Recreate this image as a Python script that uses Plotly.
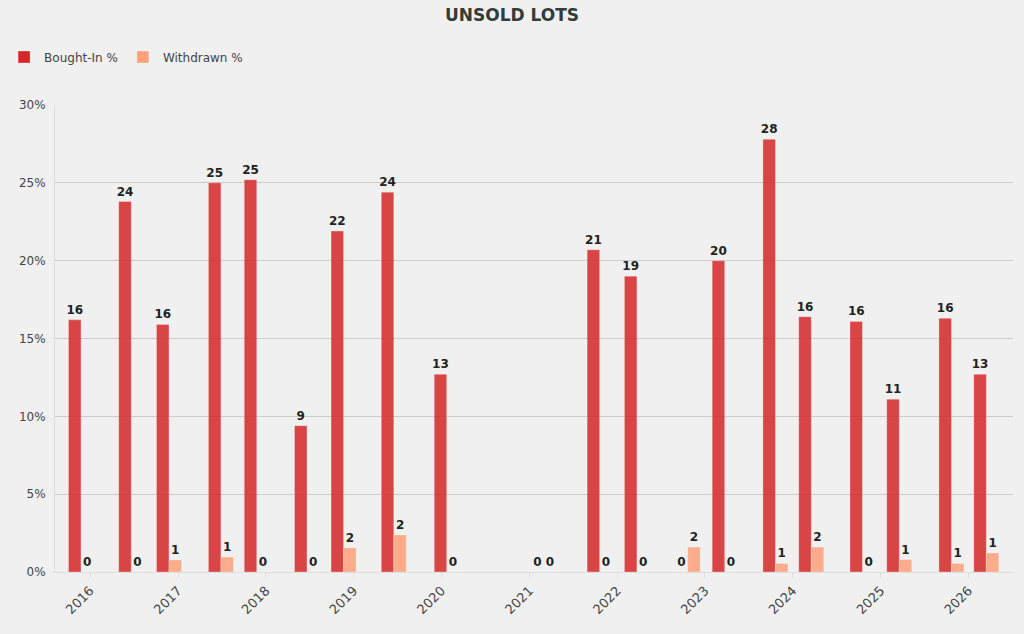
import plotly.graph_objects as go

# Sale dates (spring / autumn sessions)
sale_dates = [
    "2015-11-24", "2016-06-20", "2016-11-24", "2017-06-28", "2017-11-24",
    "2018-06-21", "2018-11-20", "2019-06-17", "2020-01-23", "2021-03-01",
    "2021-10-20", "2022-03-24", "2022-10-21", "2023-03-24", "2023-10-21",
    "2024-03-18", "2024-10-17", "2025-03-19", "2025-10-22", "2026-03-16",
]

bought_in_pct = [
    16.2, 23.8, 15.9, 25.0, 25.2, 9.4, 21.9, 24.4, 12.7, 0.0,
    20.7, 19.0, 0.0, 20.0, 27.8, 16.4, 16.1, 11.1, 16.3, 12.7,
]

withdrawn_pct = [
    0.0, 0.0, 0.77, 0.96, 0.0, 0.0, 1.55, 2.38, 0.0, 0.0,
    0.0, 0.0, 1.6, 0.0, 0.55, 1.6, 0.0, 0.8, 0.55, 1.22,
]

DAY_MS = 86400000
BAR_W = 52 * DAY_MS

FONT = "DejaVu Sans, Arial, sans-serif"
LABEL_FONT = dict(family=FONT, size=12, color="#222222", weight="bold")

fig = go.Figure()

fig.add_trace(go.Bar(
    name="Bought-In %",
    x=sale_dates,
    y=bought_in_pct,
    width=BAR_W,
    offset=-BAR_W,
    marker=dict(color="#d62728", opacity=0.85,
                line=dict(color="rgba(255,255,255,0.6)", width=0.5)),
    texttemplate="%{y:.0f}",
    textposition="outside",
    constraintext="none",
    textfont=LABEL_FONT,
    cliponaxis=False,
))

fig.add_trace(go.Bar(
    name="Withdrawn %",
    x=sale_dates,
    y=withdrawn_pct,
    width=BAR_W,
    offset=0,
    marker=dict(color="#ffa07a", opacity=0.85,
                line=dict(color="rgba(255,255,255,0.6)", width=0.5)),
    texttemplate="%{y:.0f}",
    textposition="outside",
    constraintext="none",
    textfont=LABEL_FONT,
    cliponaxis=False,
))

fig.update_layout(
    width=1024,
    height=634,
    barmode="overlay",
    paper_bgcolor="#f0f0f0",
    plot_bgcolor="#f0f0f0",
    font=dict(family=FONT, size=12, color="#444444"),
    title=dict(
        text="<b>UNSOLD LOTS</b>",
        x=0.5, xanchor="center",
        y=0.977, yanchor="middle",
        font=dict(family=FONT, size=17, color="#333b3b"),
    ),
    margin=dict(l=55, r=11, t=105, b=62),
    showlegend=True,
    legend=dict(
        orientation="h",
        xref="container", yref="container",
        x=0.004, y=0.91, xanchor="left", yanchor="middle",
        font=dict(family=FONT, size=12, color="#444444"),
        bgcolor="rgba(0,0,0,0)",
        itemwidth=30,
    ),
    xaxis=dict(
        type="date",
        range=["2015-08-08", "2026-07-05"],
        dtick="M12",
        tick0="2016-01-01",
        tickformat="%Y",
        tickangle=-45,
        ticks="outside",
        ticklen=5,
        tickcolor="#dddddd",
        showgrid=False,
        showline=True,
        linecolor="#dddddd",
        linewidth=1,
        zeroline=False,
        tickfont=dict(family=FONT, size=13, color="#444444"),
    ),
    yaxis=dict(
        range=[0, 30],
        dtick=5,
        ticksuffix="%",
        ticklabelstandoff=6,
        showgrid=True,
        gridcolor="#cccccc",
        gridwidth=1,
        showline=True,
        linecolor="#dddddd",
        zeroline=False,
        tickfont=dict(family=FONT, size=12, color="#444444"),
    ),
)

# drop the default page margin so the figure sits at the window corner
fig.write_html(
    "out.html",
    config={"displayModeBar": False},
    post_script="document.body.style.margin='0';document.body.style.background='#f0f0f0';",
)
